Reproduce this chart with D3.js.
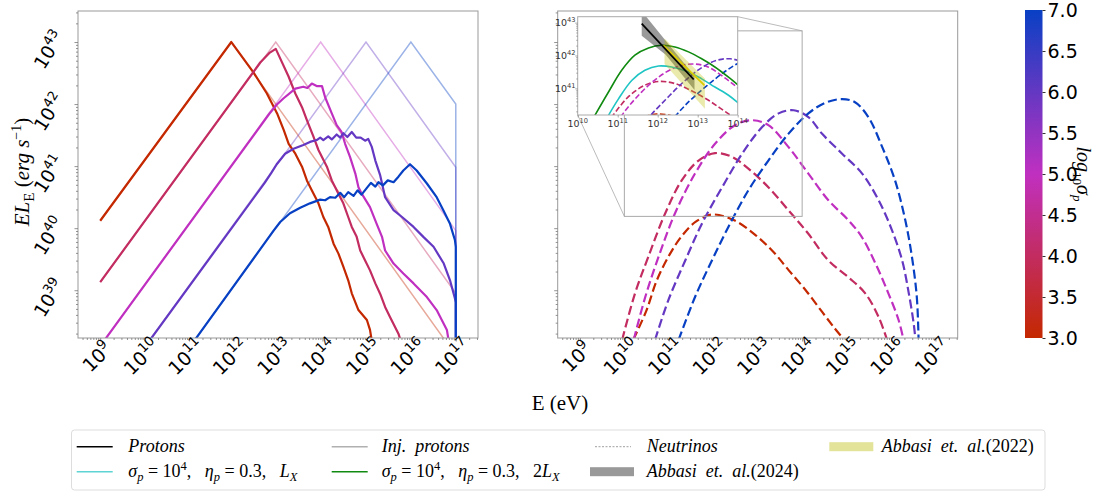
<!DOCTYPE html>
<html>
<meta charset="UTF-8" />
<script src="https://cdn.jsdelivr.net/npm/d3@7/dist/d3.min.js"></script>
<style>
*{margin:0; padding:0;}
body{background:#ffffff;}
</style>
<body>
<svg id="chart" width="1097" height="493"></svg>
<script>
// ---- data (log10 E [eV], log10 E L_E [erg/s]) ----
var sigmaLog = [3, 4, 5, 6, 7];
var xTicks = [9, 10, 11, 12, 13, 14, 15, 16, 17];
var yTicks = [39, 40, 41, 42, 43];
var insetXTicks = [10, 11, 12, 13, 14];
var insetYTicks = [41, 42, 43];
var cbarTicks = [3.0, 3.5, 4.0, 4.5, 5.0, 5.5, 6.0, 6.5, 7.0];

// injected proton spectra
var injS3 = [[9,40.12],[11.95,43],[17,37.95],[17,36]];
var injS4 = [[9,39.13],[12.95,43],[17,38.95],[17,36]];
var injS5 = [[9,38.1],[13.96,43],[17,39.96],[17,36]];
var injS6 = [[9,37.1],[14.98,43],[17,40.98],[17,36]];
var injS7 = [[9,36.1],[15.99,43],[17,42.0],[17,36]];

// proton spectra
var protS3 = [[9,40.12],[11.95,43.0],[12.44,42.52],[12.75,42.17],[12.98,41.85],[13.13,41.58],[13.24,41.36],
  [13.39,41.2],[13.54,40.99],[13.65,40.77],[13.76,40.61],[13.91,40.4],[14.02,40.18],[14.13,40.02],
  [14.25,39.75],[14.36,39.59],[14.47,39.38],[14.58,39.16],[14.66,38.95],[14.81,38.68],[15.0,38.52],
  [15.07,38.36],[15.13,38.1]];
var protS4 = [[9,39.13],[12.6,42.67],[12.8,42.82],[12.95,42.89],[13.24,42.44],[13.39,42.17],[13.54,41.95],
  [13.65,41.74],[13.8,41.47],[13.91,41.26],[14.1,40.99],[14.21,40.77],[14.4,40.5],[14.47,40.4],
  [14.58,40.18],[14.66,40.02],[14.77,39.86],[14.85,39.64],[14.96,39.48],[15.07,39.32],[15.19,39.11],
  [15.3,38.94],[15.41,38.73],[15.52,38.57],[15.71,38.3],[15.8,38.1]];
var protS5 = [[9,38.1],[12.8,41.84],[12.97,41.99],[13.12,42.09],[13.39,42.25],[13.57,42.28],[13.66,42.26],
  [13.76,42.33],[13.87,42.29],[13.99,42.29],[14.06,42.11],[14.21,41.85],[14.32,41.66],[14.43,41.55],
  [14.51,41.36],[14.62,41.15],[14.74,40.88],[14.81,40.66],[14.88,40.56],[15.07,40.34],[15.22,40.07],
  [15.34,39.86],[15.41,39.64],[15.6,39.43],[15.82,39.27],[16.05,39.11],[16.35,38.89],[16.57,38.68],
  [16.8,38.36],[16.86,38.1]];
var protS6 = [[10,38.08],[12.7,40.73],[12.85,40.89],[12.97,41.03],[13.16,41.2],[13.35,41.28],[13.57,41.34],
  [13.72,41.39],[13.87,41.42],[13.95,41.46],[14.02,41.42],[14.13,41.48],[14.21,41.43],[14.32,41.51],
  [14.4,41.46],[14.47,41.53],[14.56,41.47],[14.66,41.55],[14.76,41.46],[14.86,41.46],[14.96,41.41],
  [15.03,41.44],[15.11,41.31],[15.19,41.09],[15.3,40.85],[15.41,40.5],[15.6,40.29],[15.79,40.18],
  [16.05,40.02],[16.27,39.86],[16.5,39.7],[16.73,39.43],[16.87,39.16],[16.98,38.87],[17.0,38.8],[17.0,36]];
var protS7 = [[11,38.07],[12.9,39.96],[13.05,40.1],[13.27,40.24],[13.5,40.33],[13.72,40.4],[13.95,40.46],
  [14.06,40.45],[14.17,40.5],[14.29,40.49],[14.4,40.57],[14.49,40.5],[14.58,40.58],[14.7,40.52],
  [14.79,40.61],[14.88,40.54],[15.0,40.65],[15.09,40.73],[15.19,40.67],[15.26,40.74],[15.36,40.69],
  [15.47,40.77],[15.6,40.74],[15.71,40.83],[15.82,40.93],[15.97,41.03],[16.12,40.93],[16.35,40.72],
  [16.57,40.5],[16.72,40.29],[16.87,40.07],[16.98,39.81],[17.0,39.7],[17.0,36]];

// neutrino spectra
var nuS3 = [[10.2,38.2],[10.5,38.68],[10.73,39.16],[11.03,39.59],[11.3,39.88],[11.6,40.1],[11.97,40.22],
  [12.46,40.13],[12.93,39.9],[13.35,39.62],[13.7,39.32],[14.08,39.0],[14.45,38.65],[14.74,38.38],[14.97,38.18]];
var nuS4 = [[9.95,38.2],[10.24,38.95],[10.54,39.54],[10.92,40.24],[11.29,40.77],[11.67,41.09],[12.04,41.21],
  [12.42,41.15],[12.79,40.96],[13.24,40.66],[13.69,40.29],[14.14,39.91],[14.59,39.48],[15.04,39.21],
  [15.42,38.95],[15.72,38.57],[15.91,38.2]];
var nuS5 = [[10.21,38.2],[10.47,38.89],[10.77,39.54],[11.14,40.24],[11.59,40.88],[12.04,41.36],[12.49,41.66],
  [12.87,41.74],[13.24,41.66],[13.69,41.31],[14.14,40.88],[14.59,40.45],[15.04,40.13],[15.34,39.86],
  [15.65,39.43],[15.94,38.95],[16.17,38.52],[16.28,38.2]];
var nuS6 = [[10.69,38.2],[10.99,38.84],[11.37,39.48],[11.75,40.08],[12.2,40.66],[12.65,41.2],[13.1,41.63],
  [13.47,41.85],[13.81,41.9],[14.14,41.79],[14.45,41.52],[14.9,41.2],[15.35,40.88],[15.72,40.45],
  [16.02,39.97],[16.25,39.48],[16.4,38.95],[16.51,38.46],[16.55,38.2]];
var nuS7 = [[11.22,38.2],[11.59,38.89],[11.97,39.48],[12.34,40.02],[12.79,40.61],[13.24,41.09],[13.69,41.52],
  [14.14,41.85],[14.52,42.02],[14.9,42.08],[15.19,42.03],[15.49,41.79],[15.8,41.31],[16.09,40.77],
  [16.32,40.13],[16.47,39.54],[16.58,38.89],[16.62,38.2]];

// inset extra curves
var nuLX = [[10.77,40.18],[11.02,40.68],[11.35,41.24],[11.68,41.55],[12.02,41.68],[12.35,41.65],
  [12.77,41.5],[13.1,41.29],[13.43,41.04],[13.77,40.79],[14.02,40.55]];
var nu2LX = [[10.43,40.18],[10.77,40.89],[11.1,41.55],[11.43,42.01],[11.77,42.23],[12.1,42.31],
  [12.43,42.26],[12.77,42.11],[13.1,41.9],[13.43,41.65],[13.77,41.34],[14.02,41.09]];
var ic2024Up = [[11.6,43.35],[12.2,42.45],[12.92,41.38]];
var ic2024Lo = [[11.6,42.6],[12.2,42.02],[12.92,40.95]];
var ic2024Fit = [[11.6,42.97],[12.9,41.27]];
var ic2022Up = [[12.17,42.52],[13.18,41.3]];
var ic2022Lo = [[12.17,41.74],[13.18,40.38]];
var ic2022Fit = [[12.14,42.31],[13.17,41.09]];

var injected = [injS3, injS4, injS5, injS6, injS7];
var protons = [protS3, protS4, protS5, protS6, protS7];
var neutrinos = [nuS3, nuS4, nuS5, nuS6, nuS7];

// ---- setup ----
var svg = d3.select("#chart");
var p10 = function(v){ return Math.pow(10, v); };

var color = d3.scaleLinear().domain([3, 5, 7])
  .range(["#c42800", "#c030c0", "#0840c4"]).interpolate(d3.interpolateRgb);

var xL = d3.scaleLog().domain([p10(8.5), p10(17.5)]).range([78, 478]);
var xR = d3.scaleLog().domain([p10(8.5), p10(17.5)]).range([557.7, 957.7]);
var yM = d3.scaleLog().domain([p10(38.23), p10(43.5)]).range([338, 11]);
var xI = d3.scaleLog().domain([p10(10), p10(14)]).range([577.7, 737.7]);
var yI = d3.scaleLog().domain([p10(40.19), p10(43.18)]).range([115, 16.7]);

function mkLine(xs, ys){
  return d3.line().x(function(d){ return xs(p10(d[0])); }).y(function(d){ return ys(p10(d[1])); });
}
function mkCurve(xs, ys){
  return d3.line().curve(d3.curveCatmullRom)
    .x(function(d){ return xs(p10(d[0])); }).y(function(d){ return ys(p10(d[1])); });
}

var defs = svg.append("defs");
function clip(id, x0, y0, w, h){
  defs.append("clipPath").attr("id", id).append("rect")
    .attr("x", x0).attr("y", y0).attr("width", w).attr("height", h);
}
clip("cL", 78, 11, 400, 327);
clip("cR", 557.7, 11, 400, 327);
clip("cI", 577.7, 16.7, 160, 98.3);

function minors(lo, hi){
  var out = [];
  for (var k = Math.floor(lo); k <= Math.ceil(hi); k++)
    for (var m = 2; m <= 9; m++){
      var v = m * p10(k);
      if (v >= p10(lo) && v <= p10(hi)) out.push(v);
    }
  return out;
}

function powLabel(g, x, y, e, fs, rot, anchor, col){
  var t = g.append("text")
    .attr("transform", "translate(" + x + "," + y + ") rotate(" + rot + ")")
    .attr("text-anchor", anchor)
    .style("font-family", "DejaVu Sans")
    .style("font-size", fs + "px")
    .style("fill", col || "#000");
  t.append("tspan").attr("dy", "0.35em").text("10");
  t.append("tspan").attr("dy", -fs * 0.42).style("font-size", (fs * 0.7) + "px").text(e);
  return t;
}

function drawAxes(xs, ys, showY){
  var g = svg.append("g");
  var x0 = xs.range()[0];
  g.append("g").attr("transform", "translate(0,338)")
    .call(d3.axisBottom(xs).tickValues(xTicks.map(p10)).tickFormat("").tickSize(3.5));
  g.append("g").attr("transform", "translate(0,338)")
    .call(d3.axisBottom(xs).tickValues(minors(8.5, 17.5)).tickFormat("").tickSize(2));
  g.append("g").attr("transform", "translate(" + x0 + ",0)")
    .call(d3.axisLeft(ys).tickValues(yTicks.map(p10)).tickFormat("").tickSize(3.5));
  g.append("g").attr("transform", "translate(" + x0 + ",0)")
    .call(d3.axisLeft(ys).tickValues(minors(38.23, 43.5)).tickFormat("").tickSize(2));
  g.selectAll(".domain").remove();
  g.selectAll(".tick line").attr("stroke", "#777").attr("stroke-width", 0.8);
  xTicks.forEach(function(e){
    powLabel(g, xs(p10(e)) - 3, 357, e, 19, -45, "middle");
  });
  if (showY){
    yTicks.forEach(function(e){
      powLabel(g, 49, ys(p10(e)) + 8, e, 18.5, -58, "middle");
    });
  }
}

// ---- left panel: protons ----
var gl = svg.append("g").attr("clip-path", "url(#cL)");
var lineL = mkLine(xL, yM);
injected.forEach(function(d, i){
  gl.append("path").attr("d", lineL(d)).attr("fill", "none")
    .attr("stroke", color(sigmaLog[i])).attr("stroke-opacity", 0.4).attr("stroke-width", 1.5);
});
protons.forEach(function(d, i){
  gl.append("path").attr("d", lineL(d)).attr("fill", "none")
    .attr("stroke", color(sigmaLog[i])).attr("stroke-width", 2.2).attr("stroke-linejoin", "round");
});
svg.append("rect").attr("x", 78).attr("y", 11).attr("width", 400).attr("height", 327)
  .attr("fill", "none").attr("stroke", "#999").attr("stroke-width", 1);
drawAxes(xL, yM, true);

// ---- right panel: neutrinos ----
var gr = svg.append("g").attr("clip-path", "url(#cR)");
var curveR = mkCurve(xR, yM);
neutrinos.forEach(function(d, i){
  gr.append("path").attr("d", curveR(d)).attr("fill", "none")
    .attr("stroke", color(sigmaLog[i])).attr("stroke-width", 2.2).attr("stroke-dasharray", "9,4");
});
// zoom indicator
var rx0 = xR(p10(10)), rx1 = xR(p10(14)), ry0 = yM(p10(43.18)), ry1 = yM(p10(40.19));
svg.append("rect").attr("x", rx0).attr("y", ry0).attr("width", rx1 - rx0).attr("height", ry1 - ry0)
  .attr("fill", "none").attr("stroke", "#aaa").attr("stroke-width", 1);
svg.append("line").attr("x1", 577.7).attr("y1", 115).attr("x2", rx0).attr("y2", ry1)
  .attr("stroke", "#aaa").attr("stroke-width", 0.8);
svg.append("line").attr("x1", 737.7).attr("y1", 16.7).attr("x2", rx1).attr("y2", ry0)
  .attr("stroke", "#aaa").attr("stroke-width", 0.8);
svg.append("rect").attr("x", 557.7).attr("y", 11).attr("width", 400).attr("height", 327)
  .attr("fill", "none").attr("stroke", "#999").attr("stroke-width", 1);
drawAxes(xR, yM, false);

// ---- inset ----
svg.append("rect").attr("x", 577.7).attr("y", 16.7).attr("width", 160).attr("height", 98.3)
  .attr("fill", "#fff");
var gi = svg.append("g").attr("clip-path", "url(#cI)");
var lineI = mkLine(xI, yI);
var curveI = mkCurve(xI, yI);
neutrinos.forEach(function(d, i){
  gi.append("path").attr("d", curveI(d)).attr("fill", "none")
    .attr("stroke", color(sigmaLog[i])).attr("stroke-width", 1.6).attr("stroke-dasharray", "5.5,2.5");
});
gi.append("path").attr("d", curveI(nuLX)).attr("fill", "none").attr("stroke", "#1fc4c4").attr("stroke-width", 1.6);
gi.append("path").attr("d", curveI(nu2LX)).attr("fill", "none").attr("stroke", "#108a10").attr("stroke-width", 1.6);
gi.append("path").attr("d", lineI(ic2024Up.concat(ic2024Lo.slice().reverse())) + "Z")
  .attr("fill", "#000").attr("fill-opacity", 0.4);
gi.append("path").attr("d", lineI(ic2022Up.concat(ic2022Lo.slice().reverse())) + "Z")
  .attr("fill", "#bfbf00").attr("fill-opacity", 0.32);
gi.append("path").attr("d", lineI(ic2022Fit)).attr("stroke", "#dccb00").attr("stroke-width", 1.8);
gi.append("path").attr("d", lineI(ic2024Fit)).attr("stroke", "#000").attr("stroke-width", 1.8);
svg.append("rect").attr("x", 577.7).attr("y", 16.7).attr("width", 160).attr("height", 98.3)
  .attr("fill", "none").attr("stroke", "#aaa").attr("stroke-width", 1);
var ga = svg.append("g");
ga.append("g").attr("transform", "translate(0,115)")
  .call(d3.axisBottom(xI).tickValues(insetXTicks.map(p10)).tickFormat("").tickSize(2.5));
ga.append("g").attr("transform", "translate(577.7,0)")
  .call(d3.axisLeft(yI).tickValues(insetYTicks.map(p10)).tickFormat("").tickSize(2.5));
ga.append("g").attr("transform", "translate(577.7,0)")
  .call(d3.axisLeft(yI).tickValues(minors(40.19, 43.18)).tickFormat("").tickSize(1.5));
ga.selectAll(".domain").remove();
ga.selectAll(".tick line").attr("stroke", "#777").attr("stroke-width", 0.6);
insetXTicks.forEach(function(e){ powLabel(ga, xI(p10(e)), 123.5, e, 9.5, 0, "middle", "#333"); });
insetYTicks.forEach(function(e){ powLabel(ga, 575.5, yI(p10(e)), e, 9.5, 0, "end", "#333"); });

// ---- axis titles ----
var serif = "Liberation Serif";
var yl = svg.append("text").attr("transform", "translate(29,172) rotate(-90)")
  .attr("text-anchor", "middle").style("font-family", serif).style("font-size", "21px");
yl.append("tspan").style("font-style", "italic").text("EL");
yl.append("tspan").attr("dy", 5).style("font-size", "15px").text("E");
yl.append("tspan").attr("dy", -5).text(" (");
yl.append("tspan").style("font-style", "italic").text("erg s");
yl.append("tspan").attr("dy", -8).style("font-size", "14px").text("\u22121");
yl.append("tspan").attr("dy", 8).text(")");

svg.append("text").attr("x", 560).attr("y", 410).attr("text-anchor", "middle")
  .style("font-family", serif).style("font-size", "21px").text("E (eV)");

// ---- colorbar ----
var cbY = d3.scaleLinear().domain([3, 7]).range([338, 10]);
var grad = defs.append("linearGradient").attr("id", "cbg")
  .attr("x1", 0).attr("y1", 1).attr("x2", 0).attr("y2", 0);
d3.range(3, 7.01, 0.25).forEach(function(v){
  grad.append("stop").attr("offset", (v - 3) / 4).attr("stop-color", color(v));
});
svg.append("rect").attr("x", 1025).attr("y", 10).attr("width", 17.5).attr("height", 328)
  .attr("fill", "url(#cbg)");
var gc = svg.append("g").attr("transform", "translate(1042.5,0)")
  .call(d3.axisRight(cbY).tickValues(cbarTicks).tickFormat(d3.format(".1f")).tickSize(3).tickPadding(2));
gc.select(".domain").remove();
gc.selectAll(".tick line").attr("stroke", "#333");
gc.selectAll("text").style("font-family", "DejaVu Sans").style("font-size", "19px").attr("fill", "#000");
var cl = svg.append("text").attr("transform", "translate(1077,174) rotate(90)")
  .attr("text-anchor", "middle").style("font-family", serif).style("font-size", "20px");
cl.append("tspan").style("font-style", "italic").text("log");
cl.append("tspan").attr("dy", 4).style("font-size", "13px").text("10");
cl.append("tspan").attr("dy", -4).style("font-style", "italic").text("\u03c3");
cl.append("tspan").attr("dy", 4).style("font-size", "13px").style("font-style", "italic").text("p");

// ---- legend ----
var lg = svg.append("g").style("font-family", serif).style("font-size", "18px")
  .style("white-space", "pre");
lg.append("rect").attr("x", 71.5).attr("y", 430).attr("width", 973.5).attr("height", 60).attr("rx", 3)
  .attr("fill", "#fff").attr("stroke", "#ddd");
function legLine(x, y, col, dash, w){
  lg.append("line").attr("x1", x).attr("x2", x + 36).attr("y1", y).attr("y2", y)
    .attr("stroke", col).attr("stroke-width", w).attr("stroke-dasharray", dash || null);
}
function legPatch(x, y, col){
  lg.append("rect").attr("x", x).attr("y", y - 4.5).attr("width", 44).attr("height", 9).attr("fill", col);
}
function legText(x, y, parts){
  var t = lg.append("text").attr("x", x).attr("y", y + 5.5).attr("xml:space", "preserve");
  parts.forEach(function(p){
    var s = t.append("tspan").text(p[0]);
    if (p[1].indexOf("i") >= 0) s.style("font-style", "italic");
    if (p[1].indexOf("b") >= 0) s.attr("dy", 4).style("font-size", "12.5px");
    if (p[1].indexOf("u") >= 0) s.attr("dy", -7).style("font-size", "12.5px");
    if (p[1].indexOf("n") >= 0) s.attr("dy", p[2]);
  });
}
var r1 = 446.7, r2 = 471.7;
legLine(76.7, r1, "#000", null, 1.5);
legText(128.3, r1, [["Protons", "i"]]);
legLine(331.7, r1, "#b0b0b0", null, 1.5);
legText(381.7, r1, [["Inj.  protons", "i"]]);
legLine(595, r1, "#a0a0a0", "2,1.5", 1);
legText(646.7, r1, [["Neutrinos", "i"]]);
legPatch(829.3, r1, "#e3e399");
legText(881.7, r1, [["Abbasi  et.  al.", "i"], ["(2022)", ""]]);
legLine(76.7, r2, "#5fd4d4", null, 1.5);
var sigParts = [["\u03c3", "i"], ["p", "ib"], [" = 10", "n", -4], ["4", "u"], [",   ", "n", 7],
  ["\u03b7", "i"], ["p", "ib"], [" = 0.3,   ", "n", -4]];
legText(128.3, r2, sigParts.concat([["L", "i"], ["X", "ib"]]));
legLine(331.7, r2, "#108a10", null, 1.5);
legText(381.7, r2, sigParts.concat([["2", ""], ["L", "i"], ["X", "ib"]]));
legPatch(590, r2, "#999999");
legText(646.7, r2, [["Abbasi  et.  al.", "i"], ["(2024)", ""]]);
</script>
</body>
</html>
